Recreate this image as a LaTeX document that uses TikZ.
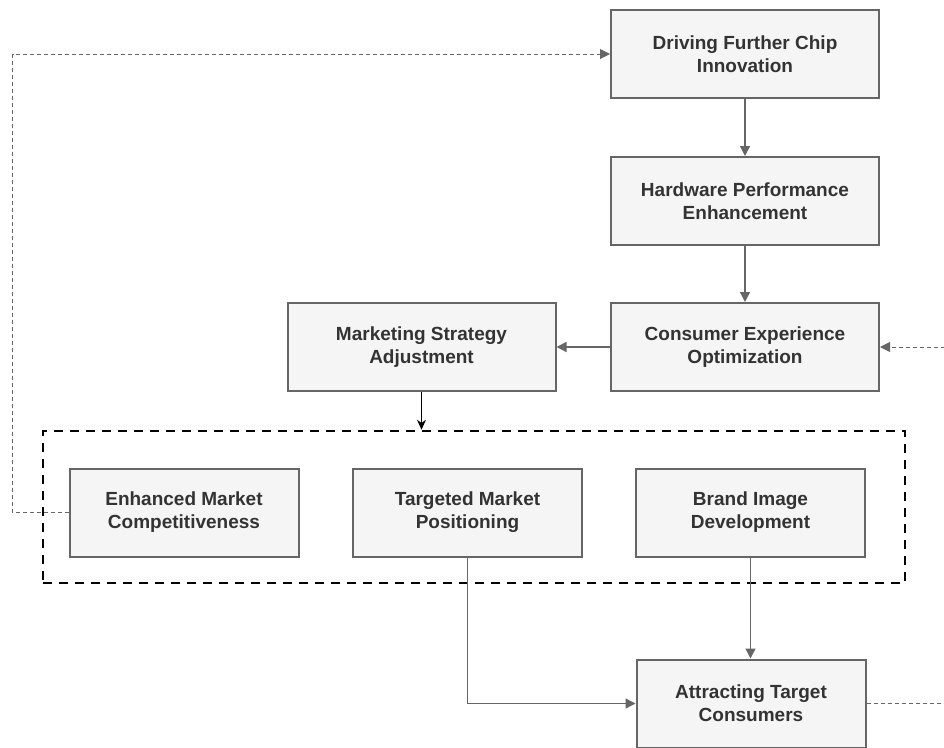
\documentclass[tikz,border=0pt]{standalone}
\usepackage{fontspec}
\setmainfont{Liberation Sans}
\usetikzlibrary{arrows.meta}
\definecolor{boxfill}{HTML}{F5F5F5}
\definecolor{boxline}{HTML}{666666}
\definecolor{txt}{HTML}{333333}
\begin{document}
\begin{tikzpicture}[x=1pt,y=-1pt,
  box/.style={draw=boxline, line width=2pt, fill=boxfill, text=txt,
    font=\bfseries\fontsize{19}{23}\selectfont, align=center,
    minimum height=88pt, inner sep=0pt},
  widebox/.style={box, minimum width=268pt},
  narrowbox/.style={box, minimum width=229pt},
  conn/.style={draw=boxline, line width=1.3pt, -{Triangle[length=10pt,width=10pt]}},
  fback/.style={draw=boxline, line width=1pt, dash pattern=on 4pt off 3pt,
    -{Triangle[length=10pt,width=10pt]}},
  grpbox/.style={draw=black, line width=2.5pt, dash pattern=on 9pt off 7pt,
    minimum width=862pt, minimum height=152pt, inner sep=0pt}]
\path[use as bounding box] (0,0) rectangle (944,747);
\clip (0,0) rectangle (944,747);

\node[widebox] (drv) at (745,54) {Driving Further Chip\\Innovation};
\node[widebox] (hw) at (745,201) {Hardware Performance\\Enhancement};
\node[widebox] (cons) at (745,347) {Consumer Experience\\Optimization};
\node[widebox] (mkt) at (421.5,347) {Marketing Strategy\\Adjustment};

\node[grpbox] (grp) at (474,507) {};
\node[narrowbox] (enh) at (184,512.5) {Enhanced Market\\Competitiveness};
\node[narrowbox] (tgt) at (467.5,512.5) {Targeted Market\\Positioning};
\node[narrowbox] (brand) at (750.5,512.5) {Brand Image\\Development};
\node[narrowbox] (attr) at (751,703.5) {Attracting Target\\Consumers};

\coordinate (lft) at (12.5,0);
\coordinate (rgt) at (990,0);

\draw[conn] (drv) -- (hw);
\draw[conn] (hw) -- (cons);
\draw[conn] (cons) -- (mkt);
\draw[line width=1.3pt, -{Stealth[length=10pt,width=9pt]}] (mkt.south) -- (mkt.south |- grp.north);
\draw[conn] (brand.south) -- (brand.south |- attr.north);
\draw[conn] (tgt.south) |- (attr.west);
\draw[fback] (enh.west) -- (enh.west -| lft) |- (drv.west);
\draw[fback] (attr.east) -- (attr.east -| rgt) |- (cons.east);
\end{tikzpicture}
\end{document}
